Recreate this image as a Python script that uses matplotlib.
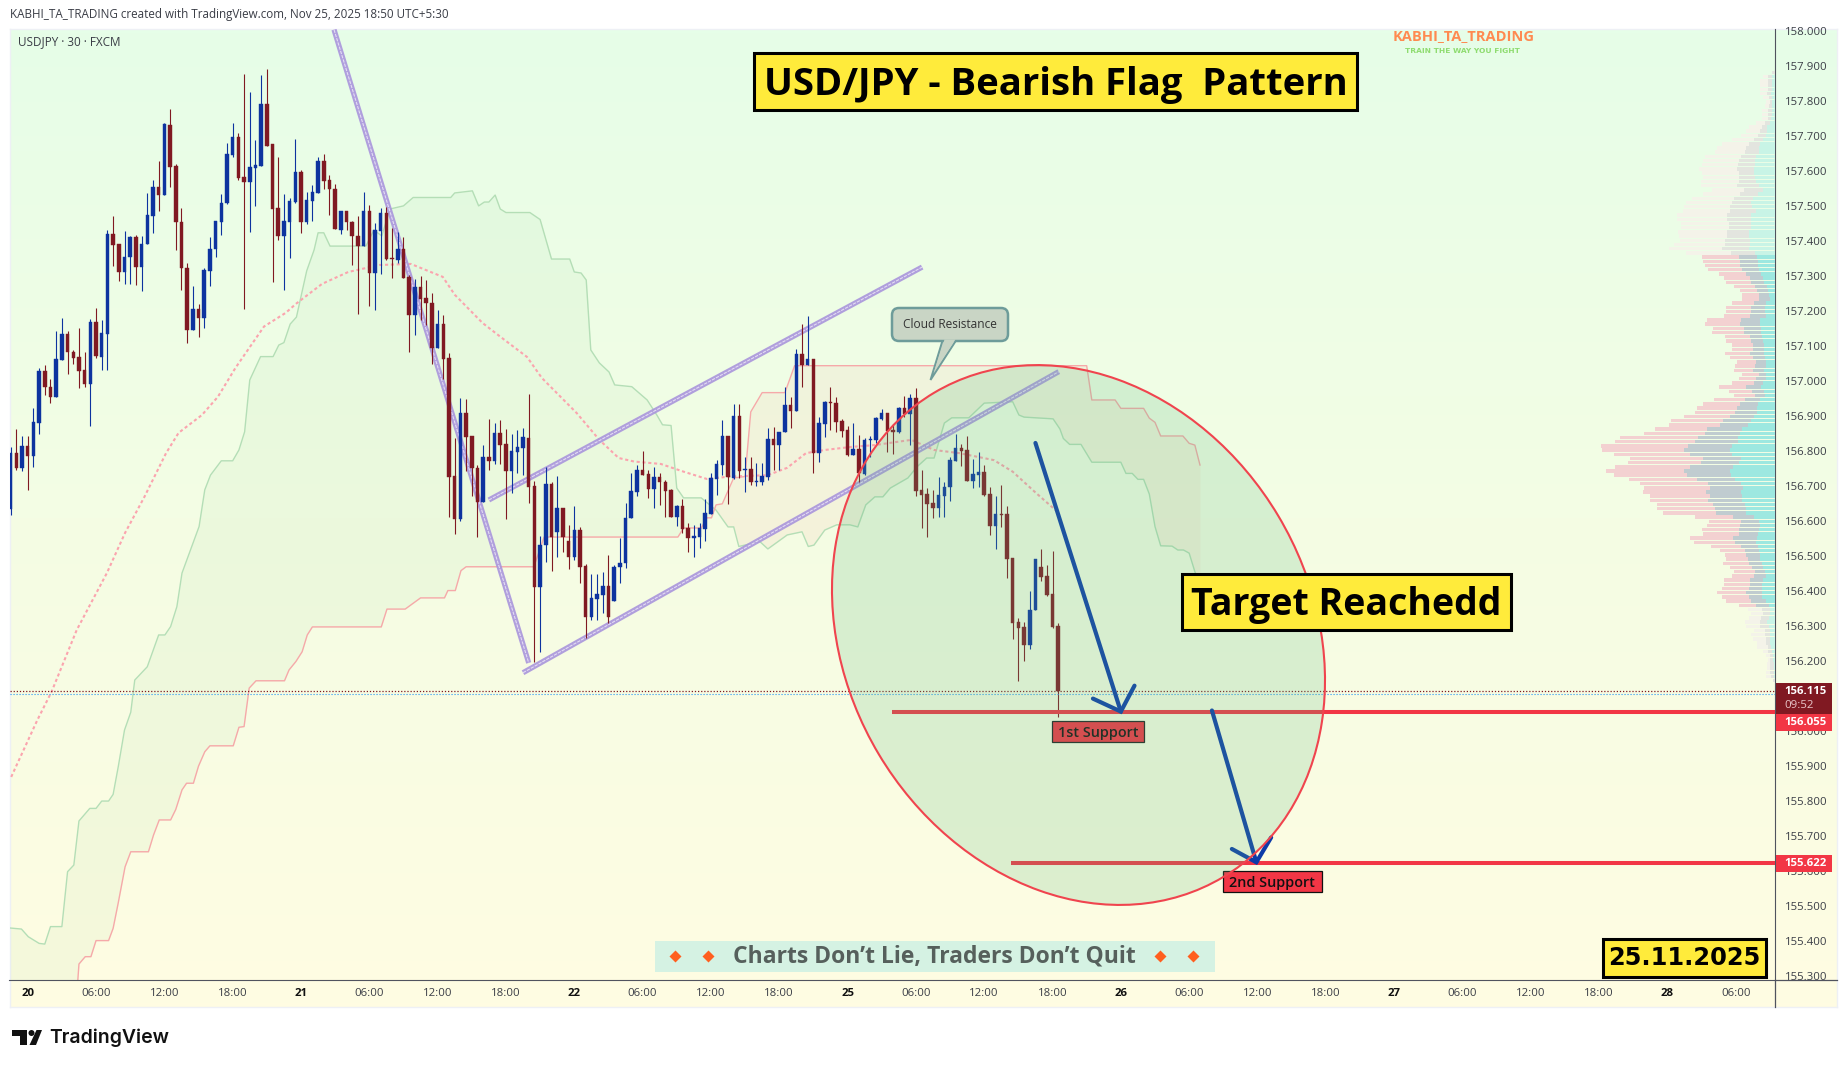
import numpy as np
import matplotlib
matplotlib.use("Agg")
import matplotlib.pyplot as plt
from matplotlib.colors import LinearSegmentedColormap
from matplotlib.patches import Rectangle, FancyBboxPatch, Polygon, Ellipse, Circle
from matplotlib.transforms import Affine2D

W, H = 1847, 1068

# 30 min candles, bar index 0 is the "20" tick
opens = [156.635,156.795,156.752,156.813,156.787,156.881,157.028,156.984,156.954,157.061,
    157.135,157.084,157.068,157.031,156.992,157.169,157.068,157.135,157.421,157.391,
    157.311,157.355,157.411,157.327,157.392,157.473,157.554,157.533,157.732,157.615,
    157.455,157.324,157.147,157.206,157.179,157.316,157.377,157.455,157.508,157.646,
    157.698,157.584,157.569,157.610,157.615,157.792,157.677,157.495,157.416,157.455,
    157.513,157.597,157.455,157.515,157.538,157.628,157.574,157.549,157.433,157.485,
    157.455,157.416,157.387,157.485,157.309,157.429,157.482,157.352,157.347,157.378,
    157.298,157.189,157.268,157.237,157.224,157.096,157.162,157.065,156.728,156.607,
    156.909,156.842,156.752,156.655,156.782,156.772,156.852,156.820,156.744,156.798,
    156.810,156.838,156.700,156.412,156.531,156.706,156.569,156.636,156.543,156.496,
    156.574,156.471,156.324,156.377,156.388,156.414,156.372,156.467,156.479,156.608,
    156.684,156.746,156.733,156.691,156.727,156.712,156.689,156.612,156.643,156.579,
    156.552,156.555,156.577,156.620,156.720,156.760,156.843,156.722,156.900,156.746,
    156.748,156.710,156.712,156.727,156.833,156.817,156.853,156.932,156.915,157.077,
    157.046,157.062,156.795,156.877,156.939,156.936,156.886,156.860,156.789,156.806,
    156.733,156.832,156.832,156.893,156.908,156.860,156.855,156.922,156.906,156.951,
    156.689,156.676,156.651,156.638,156.672,156.696,156.772,156.808,156.803,156.715,
    156.732,156.740,156.676,156.586,156.620,156.620,156.493,156.311,156.296,156.245,
    156.344,156.467,156.443,156.391,156.300]
highs = [156.811,156.864,156.844,156.842,156.923,157.038,157.046,157.007,157.143,157.181,
    157.142,157.089,157.152,157.084,157.177,157.209,157.175,157.431,157.472,157.391,
    157.429,157.414,157.418,157.416,157.538,157.574,157.628,157.738,157.778,157.620,
    157.495,157.339,157.271,157.220,157.322,157.411,157.457,157.535,157.681,157.738,
    157.710,157.879,157.826,157.690,157.875,157.893,157.678,157.641,157.535,157.523,
    157.692,157.603,157.540,157.561,157.641,157.649,157.589,157.564,157.485,157.485,
    157.459,157.472,157.540,157.503,157.452,157.494,157.498,157.439,157.426,157.411,
    157.303,157.291,157.301,157.288,157.252,157.203,157.189,157.081,156.836,156.951,
    156.948,156.842,156.760,156.816,156.892,156.879,156.890,156.864,156.849,156.861,
    156.866,156.963,156.714,156.557,156.753,156.711,156.729,156.638,156.589,156.643,
    156.582,156.477,156.448,156.448,156.455,156.503,156.474,156.550,156.651,156.736,
    156.760,156.800,156.746,156.755,156.738,156.717,156.691,156.646,156.663,156.595,
    156.589,156.595,156.662,156.738,156.774,156.889,156.844,156.934,156.934,156.784,
    156.784,156.765,156.765,156.865,156.870,156.855,156.984,156.955,157.091,157.163,
    157.186,157.063,156.896,156.944,156.982,156.955,156.893,156.872,156.879,156.846,
    156.836,156.844,156.898,156.919,156.908,156.877,156.927,156.957,156.963,156.981,
    156.746,156.693,156.689,156.727,156.712,156.784,156.849,156.820,156.843,156.776,
    156.796,156.760,156.698,156.671,156.703,156.643,156.493,156.322,156.312,156.400,
    156.490,156.519,156.474,156.514,156.307]
lows = [156.617,156.746,156.744,156.689,156.754,156.849,156.960,156.938,156.954,157.061,
    157.020,157.050,156.979,156.982,156.872,157.066,157.032,157.032,157.329,157.286,
    157.278,157.278,157.276,157.257,157.392,157.424,157.487,157.533,157.554,157.375,
    157.261,157.109,157.147,157.125,157.153,157.273,157.355,157.419,157.505,157.641,
    157.576,157.206,157.426,157.501,157.615,157.673,157.283,157.404,157.261,157.352,
    157.508,157.424,157.449,157.457,157.538,157.549,157.475,157.434,157.421,157.431,
    157.332,157.193,157.387,157.214,157.204,157.307,157.346,157.295,157.339,157.295,
    157.084,157.132,157.176,157.160,157.048,157.096,157.007,156.611,156.563,156.599,
    156.742,156.672,156.553,156.655,156.747,156.764,156.762,156.607,156.680,156.737,
    156.731,156.650,156.196,156.224,156.484,156.458,156.498,156.512,156.462,156.488,
    156.424,156.265,156.317,156.317,156.336,156.309,156.372,156.424,156.465,156.608,
    156.670,156.732,156.665,156.638,156.646,156.610,156.610,156.587,156.565,156.512,
    156.498,156.522,156.544,156.620,156.674,156.732,156.649,156.720,156.722,156.684,
    156.703,156.700,156.703,156.717,156.746,156.746,156.853,156.865,156.915,156.984,
    157.046,156.738,156.770,156.839,156.860,156.855,156.839,156.786,156.789,156.710,
    156.731,156.784,156.822,156.889,156.798,156.792,156.851,156.898,156.817,156.671,
    156.579,156.555,156.608,156.612,156.612,156.658,156.772,156.757,156.715,156.693,
    156.696,156.670,156.560,156.520,156.584,156.438,156.263,156.143,156.200,156.234,
    156.344,156.427,156.384,156.295,156.040]
closes = [156.795,156.752,156.813,156.787,156.883,157.028,156.984,156.954,157.063,157.135,
    157.082,157.066,157.030,156.992,157.169,157.071,157.138,157.421,157.390,157.311,
    157.355,157.411,157.327,157.391,157.475,157.554,157.533,157.735,157.613,157.455,
    157.322,157.147,157.206,157.179,157.319,157.378,157.457,157.510,157.649,157.698,
    157.581,157.569,157.612,157.618,157.792,157.673,157.492,157.416,157.457,157.515,
    157.597,157.455,157.518,157.540,157.628,157.572,157.549,157.434,157.485,157.455,
    157.414,157.387,157.485,157.309,157.431,157.482,157.349,157.348,157.378,157.295,
    157.189,157.268,157.236,157.224,157.096,157.162,157.063,156.726,156.607,156.909,
    156.841,156.752,156.655,156.782,156.772,156.852,156.818,156.744,156.800,156.811,
    156.839,156.698,156.412,156.531,156.706,156.553,156.636,156.553,156.498,156.574,
    156.469,156.324,156.379,156.390,156.414,156.326,156.469,156.479,156.608,156.686,
    156.746,156.732,156.691,156.727,156.712,156.687,156.612,156.643,156.576,156.552,
    156.557,156.579,156.622,156.722,156.763,156.843,156.725,156.900,156.744,156.748,
    156.710,156.714,156.729,156.833,156.817,156.855,156.932,156.915,157.077,157.046,
    157.062,156.795,156.879,156.941,156.938,156.884,156.858,156.789,156.806,156.736,
    156.832,156.834,156.895,156.908,156.858,156.855,156.924,156.906,156.951,156.687,
    156.674,156.649,156.638,156.674,156.698,156.774,156.808,156.801,156.715,156.734,
    156.740,156.674,156.586,156.620,156.618,156.492,156.309,156.295,156.245,156.346,
    156.490,156.441,156.388,156.298,156.115]

# ichimoku cloud edges, (bar index, price) at the kinks
green_x = [-3.1,-1.1,0.1,2,3,4,6,7,8.1,9,10.9,12,13,14.2,15,15.9,17,18.1,18.8,21,23,24.1,25.1,26.2,27.1,
    30.1,31.1,32.1,34,36,37.1,38.1,39,40.9,43.1,44.1,45,46.1,47.2,49,50.3,51,52,53.1,59.4,60.8,62.2,63.6,
    66,67.7,74.3,75,78.1,79.2,80.2,81,82.1,83,84,88.2,90,92,95.2,96,97.2,98.1,98.9,100.4,102.1,103.1,106.1,
    108.8,110.5,111.5,113,114,115.2,118.3,120.9,123,124,124.9,128.6,130,133.4,136,137.1,138.1,140,142.1,
    144.4,145.8,147.2,148.8,150.2,151.5,154.6,156.2,157.9,159.2,161,162.3,165.3,168,173,174.1,175,180.1,
    181.3,181.9,183,185,186.9,192,192.9,194,195,196,197,198,199,201,202,203,204,205,205.9]
green_y = [155.436,155.433,155.411,155.392,155.390,155.440,155.440,155.597,155.616,155.742,155.778,155.778,
    155.799,155.799,155.818,155.897,156.002,156.053,156.145,156.183,156.274,156.274,156.298,156.355,156.451,
    156.584,156.689,156.731,156.772,156.772,156.803,156.855,157.003,157.070,157.070,157.103,157.110,157.163,
    157.183,157.315,157.375,157.424,157.424,157.386,157.386,157.432,157.415,157.492,157.501,157.525,157.525,
    157.538,157.544,157.501,157.512,157.512,157.532,157.492,157.482,157.482,157.462,157.349,157.349,157.312,
    157.309,157.289,157.089,157.052,157.026,156.989,156.984,156.946,156.903,156.875,156.873,156.694,156.666,
    156.666,156.631,156.583,156.583,156.527,156.541,156.520,156.560,156.569,156.527,156.531,156.574,156.589,
    156.589,156.583,156.646,156.669,156.669,156.694,156.723,156.755,156.780,156.780,156.880,156.895,156.895,
    156.937,156.941,156.903,156.897,156.892,156.863,156.836,156.819,156.819,156.768,156.768,156.736,156.736,
    156.719,156.719,156.677,156.584,156.529,156.528,156.517,156.517,156.508,156.455,156.423]
red_x = [8.8,9,10.1,11.1,12,14.2,15,15.9,17.1,18.1,21.2,22.1,23.1,25.1,26,27.1,27.9,29.1,30,31.1,32,36.1,37.1,
    38,38.9,40.1,45.1,45.9,47.1,48.2,49.1,50,62.1,63.1,66.3,69,73.2,73.8,75.1,76.1,77,88.9,90.7,114.2,115.2,
    118.3,119.3,120.1,120.9,122,124,126,127,129,133,134.7,186,186.9,191,192,196,197,198,199,202.9,204,205,205.9]
red_y = [155.287,155.333,155.354,155.354,155.400,155.400,155.435,155.508,155.611,155.654,155.654,155.702,
    155.745,155.745,155.775,155.831,155.850,155.850,155.899,155.940,155.957,155.957,156.010,156.012,156.122,
    156.143,156.143,156.174,156.198,156.226,156.274,156.297,156.297,156.348,156.348,156.380,156.380,156.401,
    156.401,156.458,156.469,156.469,156.554,156.554,156.580,156.580,156.609,156.609,156.646,156.649,156.723,
    156.727,156.912,156.967,156.967,157.044,157.044,156.946,156.946,156.922,156.922,156.894,156.882,156.843,
    156.843,156.822,156.817,156.760]
base_x = [-2.9,1.7,4.2,8.6,13.9,17.1,20.5,24.3,26.5,30.6,33.4,36.5,41.5,45.3,47.2,51.7,56.3,61.8,67.3,72.9,75,
    79.9,83,87.7,90.3,96.4,100.4,103.8,106.5,111.2,115.2,119.3,123.3,130,133.4,136.7,140,144.8,148.8,155.2,
    159.2,163.6,169.7,173,177.1,181.1]
base_y = [155.868,156.031,156.112,156.288,156.451,156.566,156.669,156.794,156.852,156.903,156.955,157.038,
    157.156,157.195,157.222,157.278,157.312,157.332,157.335,157.298,157.247,157.166,157.127,157.069,157.009,
    156.909,156.832,156.780,156.770,156.763,156.741,156.720,156.727,156.731,156.752,156.794,156.803,156.812,
    156.817,156.832,156.803,156.794,156.774,156.741,156.680,156.623]

# volume profile, top row first. total / overlap / up volume
vp_total = [10,36,44,44,44,46,36,28,31,39,39,38,58,78,86,101,128,159,174,181,211,216,219,228,218,216,221,221,189,
    216,249,266,273,276,294,294,283,283,291,288,286,304,318,268,
    219,216,211,201,169,154,148,124,104,99,98,130,148,148,154,204,211,186,189,151,148,129,129,151,135,114,120,124,
    99,108,129,169,138,124,184,216,234,240,273,313,319,361,393,466,481,523,519,484,436,441,481,508,484,438,406,394,
    396,376,376,354,354,336,241,199,204,219,216,256,244,193,166,151,146,157,136,124,130,154,154,160,175,160,148,109,
    82,73,79,91,88,64,71,66,54,54,36,28,21,24,24,26,26,6]
vp_overlap = [10,21,21,21,21,24,18,16,18,21,21,21,31,39,44,51,64,78,88,91,103,108,111,114,109,109,109,113,94,
    106,124,130,136,136,144,144,139,139,144,144,151,151,159,133,
    108,106,104,100,86,76,73,61,54,48,48,64,73,73,76,103,106,93,93,76,73,66,66,76,66,58,61,66,
    48,56,64,86,69,61,91,106,114,121,134,156,166,203,211,231,239,261,273,254,216,221,256,274,264,234,201,196,
    206,196,201,186,181,176,126,101,104,109,109,126,121,101,91,86,81,79,68,61,64,76,76,79,86,79,73,56,
    39,36,41,46,44,31,31,28,26,21,21,14,14,14,14,14,12,6]
vp_up = [0,8,10,10,10,12,8,8,8,8,10,12,16,24,24,28,36,46,48,48,56,59,61,64,64,61,56,48,36,
    51,66,71,68,58,71,71,71,73,78,78,76,76,78,61,
    54,51,51,49,43,36,34,24,21,18,16,26,31,31,28,46,46,43,41,38,36,34,34,34,31,28,28,34,
    28,28,36,43,34,31,46,51,54,54,64,71,81,98,106,111,111,129,136,128,103,108,126,134,131,119,101,96,
    101,98,98,91,88,86,64,48,46,48,51,54,56,51,48,46,46,39,36,31,28,36,38,38,38,38,28,18,
    16,16,18,24,18,16,16,14,14,11,8,6,6,4,4,4,2,0]
vp_top_price = 157.8825
vp_bottom_price = 156.143
vp_fade_top = 44
vp_fade_bottom = 18

# drawn lines, (bar index, price)
flagpole_x, flagpole_y = [53.8, 88.0], [158.005, 156.194]
upper_x, upper_y = [81.0, 157.1], [156.660, 157.326]
lower_x, lower_y = [87.0, 181.1], [156.166, 157.027]
arrow1_x = [177.0, 192.0]
arrow1_y = [156.823, 156.055]
arrow1_head_x = [187.1, 192.0, 194.4]
arrow1_head_y = [156.092, 156.055, 156.129]
arrow2_x = [208.0, 215.8]
arrow2_y = [156.058, 155.624]
arrow2_head_x = [211.5, 215.8, 218.4]
arrow2_head_y = [155.662, 155.624, 155.695]

support1, support1_start = 156.055, 151.8
support2, support2_start = 155.622, 172.7
last_price = 156.114
bid_price = 156.106

price_ticks = [155.3,155.4,155.5,155.6,155.7,155.8,155.9,156.0,156.1,156.2,156.3,156.4,156.5,156.6,
    156.7,156.8,156.9,157.0,157.1,157.2,157.3,157.4,157.5,157.6,157.7,157.8,157.9,158.0]
time_ticks = [0,12,24,36,48,60,72,84,96,108,120,132,144,156,168,180,192,204,216,228,240,252,264,276,288,300]
time_labels = ['20','06:00','12:00','18:00','21','06:00','12:00','18:00','22','06:00','12:00','18:00',
    '25','06:00','12:00','18:00','26','06:00','12:00','18:00','27','06:00','12:00','18:00','28','06:00']

BLUE, RED = '#0d339f', '#801922'
ALERT = '#f23645'
YELLOW = '#ffeb3b'
FONT = 'Open Sans'
px = Affine2D().scale(1, -1).translate(0, H)  # image pixels, y down

fig = plt.figure(figsize=(W / 100, H / 100), dpi=100, facecolor='white')
fig_box = lambda l, t, r, b: [l / W, 1 - b / H, (r - l) / W, (b - t) / H]

# pane background
bg = fig.add_axes(fig_box(9.5, 29, 1836.5, 1007))
bg.axis('off')
cmap = LinearSegmentedColormap.from_list('pane', ['#e6fee8', '#f4fde4', '#fffce2'])
bg.imshow(np.linspace(0, 1, 256)[:, None], aspect='auto', cmap=cmap)

ax = fig.add_axes(fig_box(9.5, 29.4, 1775, 980))
ax.patch.set_alpha(0)
x_left, x_right = -3.2, 306.9
for s in ['top', 'left']:
    ax.spines[s].set_visible(False)
ax.spines['right'].set_color('#50535e')
ax.spines['bottom'].set_color('#50535e')

# cloud
xs = np.union1d(green_x, red_x)
g = np.interp(xs, green_x, green_y)
r = np.interp(xs, red_x, red_y)
ax.fill_between(xs, g, r, where=g >= r, interpolate=True, color='#a5d6a7', alpha=0.10, lw=0, zorder=1)
ax.fill_between(xs, g, r, where=g < r, interpolate=True, color='#f7b0a0', alpha=0.12, lw=0, zorder=1)
ax.plot(green_x, green_y, color='#b4deb6', lw=1.0, zorder=2)
ax.plot(red_x, red_y, color='#f6a9a9', lw=1.0, zorder=2)
ax.plot(base_x, base_y, color='#fba4ae', lw=1.5, ls=(0, (1.5, 1.3)), zorder=2)

# trend lines
for lx, ly in [(flagpole_x, flagpole_y), (upper_x, upper_y), (lower_x, lower_y)]:
    ax.plot(lx, ly, color='#a995dc', lw=3.8, alpha=0.9, solid_capstyle='butt', zorder=2.5)
    ax.plot(lx, ly, color='#e4dcf4', lw=0.8, ls=(0, (3, 1)), zorder=2.6)

# candles
o, h, l, c = map(np.array, (opens, highs, lows, closes))
idx = np.arange(len(o)) - 3
colors = np.where(c >= o, BLUE, RED)
ax.vlines(idx, l, h, colors=colors, lw=0.8, zorder=3)
ax.bar(idx, np.abs(c - o), bottom=np.minimum(o, c), width=0.62, color=colors,
       edgecolor=colors, lw=0.3, zorder=3.1)

# price lines
ax.axhline(bid_price, color='#2196f3', lw=0.8, ls=(0, (1, 1.7)), zorder=3.5)
ax.axhline(last_price, color=RED, lw=0.9, ls=(0, (1, 1.5)), zorder=3.5)
ax.hlines(support1, support1_start, x_right, color=ALERT, lw=2.9, zorder=4)
ax.hlines(support2, support2_start, x_right, color=ALERT, lw=2.9, zorder=4)

# arrows
for lx, ly, hx, hy in [(arrow1_x, arrow1_y, arrow1_head_x, arrow1_head_y),
                       (arrow2_x, arrow2_y, arrow2_head_x, arrow2_head_y)]:
    ax.plot(lx, ly, color='#0d3ba8', lw=3, solid_capstyle='round', zorder=4.5)
    ax.plot(hx, hy, color='#0d3ba8', lw=3, solid_capstyle='round', solid_joinstyle='miter', zorder=4.5)

ax.set_xlim(x_left, x_right)
ax.set_ylim(155.2873, 158.0057)
ax.yaxis.tick_right()
ax.set_yticks(price_ticks)
ax.set_yticklabels(['%.3f' % p for p in price_ticks])
ax.set_xticks(time_ticks)
ax.set_xticklabels(time_labels)
ax.tick_params(axis='y', length=0, pad=7, labelsize=8.2, labelcolor='#3a3d46')
ax.tick_params(axis='x', length=0, pad=6, labelsize=8.2, labelcolor='#3a3d46')
for lab in ax.get_xticklabels() + ax.get_yticklabels():
    lab.set_fontfamily(FONT)
for lab, txt in zip(ax.get_xticklabels(), time_labels):
    if ':' not in txt:
        lab.set_fontweight('bold')
        lab.set_color('#111111')


def box(x0, y0, x1, y1, fc, ec='none', lw=0, z=5):
    ax.add_patch(Rectangle((x0, y0), x1 - x0, y1 - y0, fc=fc, ec=ec, lw=lw, transform=px, clip_on=False, zorder=z))


def label(x, y, s, size, color='black', weight='normal', ha='left', z=8, family=FONT):
    ax.text(x, y, s, fontsize=size, color=color, fontweight=weight, ha=ha, va='center',
            transform=px, zorder=z, family=family)


# axis frame extras
ax.plot([1775, 1775], [980, 1007], color='#50535e', lw=0.9, transform=px, clip_on=False)
ax.plot([1775, 1836.5], [980, 980], color='#50535e', lw=0.9, transform=px, clip_on=False)
for x0, y0, x1, y1 in [(9.5, 29, 1836.5, 29), (9.5, 1007, 1836.5, 1007), (9.5, 29, 9.5, 1007), (1836.5, 29, 1836.5, 1007)]:
    ax.plot([x0, x1], [y0, y1], color='#eef0f5', lw=1, transform=px, clip_on=False, zorder=0)

# support labels, sit under the ellipse tint
box(1052, 721, 1144, 742, ALERT, '#222222', 0.9, 5)
label(1098, 732.5, '1st Support', 10.4, '#111111', 'semibold', 'center', 5.1)
box(1223, 871, 1321.5, 892, ALERT, '#111111', 0.9, 5)
label(1272, 882.5, '2nd Support', 10.4, '#111111', 'semibold', 'center', 5.1)

# callout
ax.add_patch(Polygon([(943, 339), (930.5, 380), (957, 339)], fc='#c9d5c5', ec='#6e9c9a', lw=1.4,
                     transform=px, clip_on=False, zorder=5))
ax.add_patch(FancyBboxPatch((892, 308), 116, 33, boxstyle='round,pad=0,rounding_size=7', fc='#c9d5c5',
                            ec='#6e9c9a', lw=1.8, transform=px, clip_on=False, zorder=5))
ax.add_patch(Polygon([(944.5, 339.5), (934, 372), (955.5, 339.5)], fc='#c9d5c5', ec='none',
                     transform=px, clip_on=False, zorder=5.05))
label(950, 324, 'Cloud Resistance', 8.6, '#333333', 'normal', 'center', 5.1)

# target ellipse over the lines
ax.add_patch(Ellipse((1078.5, 635), 564, 465.2, angle=59.2, fc=(0.37, 0.72, 0.5, 0.2), ec='#f0444e', lw=1.5,
                     transform=px, clip_on=False, zorder=6))

# yellow boxes
box(754, 53, 1357, 110, YELLOW, 'black', 2.2, 7)
label(1055.5, 85, 'USD/JPY - Bearish Flag  Pattern', 27.5, 'black', 'bold', 'center')
box(1182, 574, 1511, 629.5, YELLOW, 'black', 2.2, 7)
label(1346.5, 605.5, 'Target Reachedd', 27, 'black', 'bold', 'center')
box(1603, 939, 1766, 976.5, YELLOW, 'black', 2.2, 7)
label(1684.5, 958, '25.11.2025', 17.4, 'black', 'bold', 'center', family='DejaVu Sans')

# banner
box(655, 941, 1214.5, 972, '#d5f2e3', z=7)
label(934.5, 956.5, 'Charts Don\u2019t Lie, Traders Don\u2019t Quit', 16.5, '#56605c', 'bold', 'center')
ax.plot([675.4, 708, 1160, 1193], [955.7] * 4, ls='none', marker='D', ms=5.8, mfc='#ff5f1f', mec='none',
        transform=px, clip_on=False, zorder=8)

# right side tags
box(1776, 683.3, 1832, 714, RED, z=7)
box(1776, 714, 1832, 731, ALERT, z=7)
box(1776, 855.3, 1832, 872, ALERT, z=7)
label(1784.5, 691.7, '156.115', 8.2, 'white', 'bold')
label(1784, 705.7, '09:52', 8.2, '#e8c6c9')
label(1784.5, 722.7, '156.055', 8.2, 'white', 'bold')
label(1784.5, 863.5, '155.622', 8.2, 'white', 'bold')

# header and brand text
label(10, 14.6, 'KABHI_TA_TRADING created with TradingView.com, Nov 25, 2025 18:50 UTC+5:30', 8.35, '#3a3d46')
label(18, 41.8, 'USDJPY \u00b7 30 \u00b7 FXCM', 8.5, '#3a3d46')
label(1464, 36, 'KABHI_TA_TRADING', 10.5, '#ff8a50', 'bold', 'center')
label(1462, 50.7, 'TRAIN THE WAY YOU FIGHT', 5.4, '#8fdc70', 'bold', 'center', family='DejaVu Sans')

# TradingView mark
ax.add_patch(Polygon([(12, 1030), (27, 1030), (27, 1045), (20, 1045), (20, 1036), (12, 1036)], fc='#111111',
                     transform=px, clip_on=False))
ax.add_patch(Circle((31.5, 1033), 3, fc='#111111', transform=px, clip_on=False))
ax.add_patch(Polygon([(36.5, 1030), (42, 1030), (36, 1045), (29.5, 1045)], fc='#111111', transform=px, clip_on=False))
label(49, 1037.5, 'TradingView', 14, '#111111', 'semibold', family='Inter')

# volume profile on its own x scale, growing left from the price axis
vp = ax.twiny()
vp.set_xlim((1775 - 9.5) * 3, 0)
vp.axis('off')
rows = np.linspace(vp_top_price, vp_bottom_price, len(vp_total))
n = len(rows)
faded = (np.arange(n) < vp_fade_top) | (np.arange(n) >= n - vp_fade_bottom)
for widths, bright, pale in [(vp_total, '#f3d1d1', '#f4f3e9'), (vp_overlap, '#c0ccd0', '#e3e5df'),
                             (vp_up, '#9de8e0', '#c8f4e6')]:
    vp.barh(rows, widths, height=0.0098, color=np.where(faded, pale, bright), lw=0)
vp.set_ylim(ax.get_ylim())

fig.savefig('out.png', dpi=100)
